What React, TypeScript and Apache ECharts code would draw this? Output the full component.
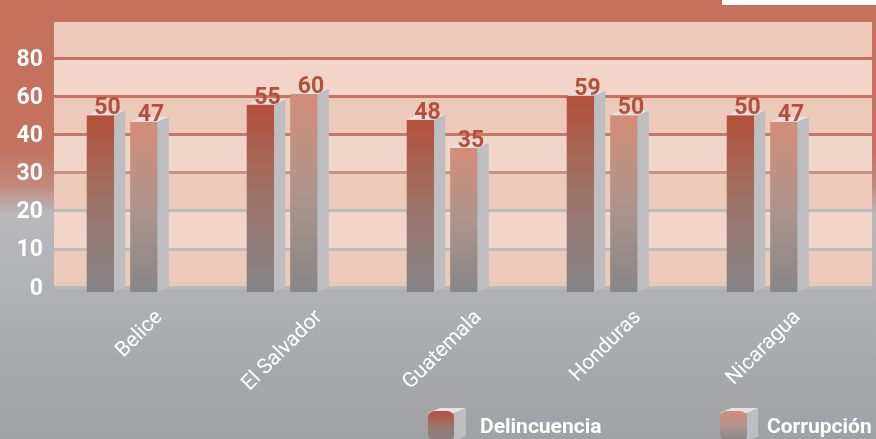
import React, { useEffect, useRef } from "react";
import * as echarts from "echarts";

const categories = ["Belice", "El Salvador", "Guatemala", "Honduras", "Nicaragua"];
const delincuencia = [50, 55, 48, 59, 50];
const corrupcion = [47, 60, 35, 50, 47];
const yTickLabels = ["0", "10", "20", "30", "40", "60", "80", ""];

const Y_MIN = -31.5;
const Y_MAX = 94;
const FONT = "Roboto, 'Noto Sans', sans-serif";

const gradA = () =>
  new echarts.graphic.LinearGradient(0, 0, 0, 1, [
    { offset: 0, color: "#b4503b" },
    { offset: 0.5, color: "#9d7469" },
    { offset: 1, color: "#848486" },
  ]);
const gradB = () =>
  new echarts.graphic.LinearGradient(0, 0, 0, 1, [
    { offset: 0, color: "#d38d79" },
    { offset: 0.5, color: "#ae958c" },
    { offset: 1, color: "#868688" },
  ]);

function makeRender(offsetRatio: number, grad: () => any) {
  return (params: any, api: any) => {
    const i = api.value(0);
    const v = api.value(1);
    const top = api.coord([i, v]);
    const base = api.coord([i, Y_MIN]);
    const bw = api.size([1, 0])[0];
    const fw = bw * 0.172;
    const dx = bw * 0.069;
    const dy = 5;
    const cx = top[0] + bw * offsetRatio;
    const fx = cx - fw / 2;
    const ty = top[1];
    const by = base[1];
    return {
      type: "group",
      children: [
        {
          type: "rect",
          shape: { x: fx, y: ty, width: fw, height: by - ty },
          style: { fill: grad() },
        },
        {
          type: "polygon",
          shape: {
            points: [
              [fx + fw, ty],
              [fx + fw + dx, ty - dy],
              [fx + fw + dx, by - dy],
              [fx + fw, by],
            ],
          },
          style: { fill: "#bdbec1" },
        },
        {
          type: "polygon",
          shape: {
            points: [
              [fx, ty],
              [fx + dx, ty - dy],
              [fx + fw + dx, ty - dy],
              [fx + fw, ty],
            ],
          },
          style: { fill: "#e3e3e5" },
        },
        {
          type: "text",
          x: fx + fw / 2 + 7,
          y: ty + 3,
          style: {
            text: String(v),
            fill: "#b4503c",
            font: `bold 23px ${FONT}`,
            align: "center",
            verticalAlign: "bottom",
          },
        },
      ],
    };
  };
}

function legendCube(x: number, fw: number, side: number) {
  const ty = 413;
  const by = 441;
  return [
    {
      type: "polygon",
      shape: { points: [[x + fw, ty], [x + fw + side, ty - 5], [x + fw + side, by - 5], [x + fw, by]] },
      style: { fill: "#bdbec1" },
    },
    {
      type: "polygon",
      shape: { points: [[x, ty], [x + side, ty - 5], [x + fw + side, ty - 5], [x + fw, ty]] },
      style: { fill: "#e3e3e5" },
    },
  ];
}

export default function App() {
  const ref = useRef<HTMLDivElement>(null);
  useEffect(() => {
    if (!ref.current) return;
    const chart = echarts.init(ref.current, undefined, { renderer: "svg" });
    const option: any = {
      animation: false,
      graphic: {
        elements: [
          {
            type: "rect",
            z: -100,
            shape: { x: 0, y: 0, width: 876, height: 439 },
            style: {
              fill: new echarts.graphic.LinearGradient(0, 0, 0, 1, [
                { offset: 0, color: "#c4705b" },
                { offset: 0.34, color: "#c3735f" },
                { offset: 0.42, color: "#c2887b" },
                { offset: 0.49, color: "#b9b9bc" },
                { offset: 0.68, color: "#afb0b4" },
                { offset: 1, color: "#a0a1a5" },
              ]),
            },
          },
          {
            type: "rect",
            shape: { x: 722, y: 0, width: 154, height: 5 },
            style: { fill: "#ffffff" },
          },
          ...legendCube(428, 26, 12),
          ...legendCube(720, 27, 11),
        ],
      },
      grid: [
        { left: 54, right: 4, top: 20, bottom: 152 },
        { left: 42.5, width: 800, top: 20, bottom: 147 },
        { left: 78.5, width: 800, top: 20, bottom: 147 },
      ],
      xAxis: [
        { gridIndex: 0, type: "value", show: false },
        { gridIndex: 1, type: "category", data: categories, show: false },
        {
          gridIndex: 2,
          type: "category",
          data: categories,
          axisLine: { show: false },
          axisTick: { show: false },
          axisLabel: {
            interval: 0,
            rotate: 45,
            margin: 21,
            color: "#ffffff",
            fontSize: 21,
            fontFamily: FONT,
          },
        },
      ],
      yAxis: [
        {
          gridIndex: 0,
          type: "category",
          data: yTickLabels,
          boundaryGap: false,
          axisLine: { show: false },
          axisTick: { show: false },
          axisLabel: {
            interval: 0,
            margin: 11,
            color: "#ffffff",
            fontSize: 23,
            fontWeight: "bold",
            fontFamily: FONT,
          },
          splitLine: {
            show: true,
            interval: 0,
            lineStyle: {
              width: 3,
              color: ["#b8b9bc", "#bbbcbf", "#bcbcbf", "#c79484", "#c47a67", "#c4735f", "#c4705c", "#c4705c"],
            },
          },
          splitArea: {
            show: true,
            interval: 0,
            areaStyle: { color: ["#ecc9b9", "#f0d5c8"] },
          },
        },
        { gridIndex: 1, type: "value", min: Y_MIN, max: Y_MAX, show: false },
        { gridIndex: 2, type: "value", show: false },
      ],
      legend: [
        {
          data: ["Delincuencia"],
          left: 428,
          top: 411,
          padding: 0,
          itemWidth: 26,
          itemHeight: 30,
          textStyle: { color: "#ffffff", fontSize: 21, fontWeight: "bold", fontFamily: FONT, padding: [0, 0, 0, 21] },
        },
        {
          data: ["Corrupción"],
          left: 720,
          top: 411,
          padding: 0,
          itemWidth: 27,
          itemHeight: 30,
          textStyle: { color: "#ffffff", fontSize: 21, fontWeight: "bold", fontFamily: FONT, padding: [0, 0, 0, 15] },
        },
      ],
      series: [
        {
          name: "Delincuencia",
          type: "custom",
          xAxisIndex: 1,
          yAxisIndex: 1,
          itemStyle: { color: gradA() },
          renderItem: makeRender(-0.1375, gradA),
          data: delincuencia.map((v, i) => [i, v]),
        },
        {
          name: "Corrupción",
          type: "custom",
          xAxisIndex: 1,
          yAxisIndex: 1,
          itemStyle: { color: gradB() },
          renderItem: makeRender(0.134, gradB),
          data: corrupcion.map((v, i) => [i, v]),
        },
      ],
    };
    chart.setOption(option);
    return () => chart.dispose();
  }, []);
  return <div ref={ref} style={{ position: "fixed", left: 0, top: 0, width: 876, height: 439 }} />;
}
